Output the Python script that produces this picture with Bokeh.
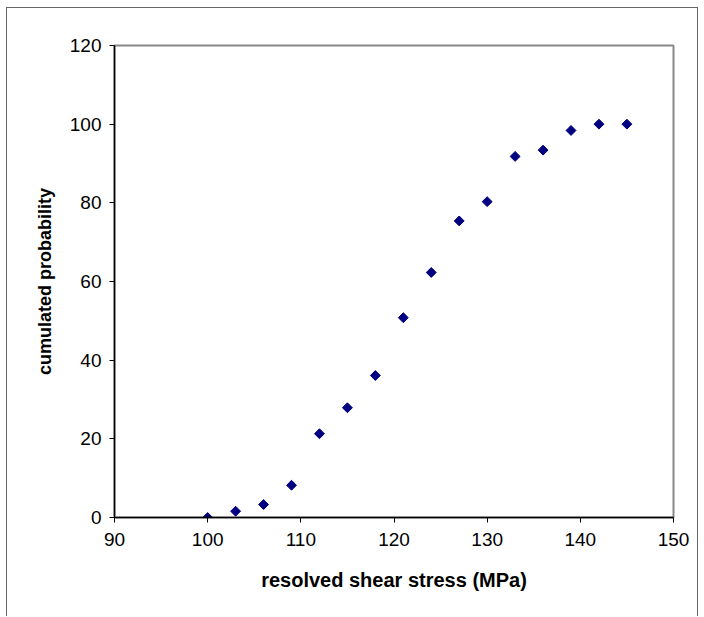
import numpy as np
from bokeh.plotting import figure
from bokeh.models import Range1d, FixedTicker
from bokeh.embed import file_html
from bokeh.resources import INLINE

stress = [100, 103, 106, 109, 112, 115, 118, 121, 124, 127, 130, 133, 136, 139, 142, 145]
probability = [0.0, 1.6, 3.3, 8.2, 21.3, 27.9, 36.1, 50.8, 62.3, 75.4, 80.3, 91.8, 93.4, 98.4, 100.0, 100.0]
x_ticks = [90, 100, 110, 120, 130, 140, 150]
y_ticks = [0, 20, 40, 60, 80, 100, 120]

p = figure(width=692, height=609, output_backend="svg", toolbar_location=None,
           x_range=Range1d(90, 150), y_range=Range1d(0, 120),
           min_border_left=107, min_border_right=26, min_border_top=37, min_border_bottom=100,
           styles={"border-left": "1px solid #666", "border-top": "1px solid #666",
                   "border-right": "1px solid #666", "margin-left": "6px", "margin-top": "7px"})

p.scatter(stress, probability, marker="square", size=7, angle=np.pi / 4,
          fill_color="#000080", line_color="#000080")

p.xgrid.visible = False
p.ygrid.visible = False
p.outline_line_color = "#888888"
p.outline_line_width = 2

for ax in (p.xaxis[0], p.yaxis[0]):
    ax.axis_line_color = "black"
    ax.axis_line_width = 1.5
    ax.major_tick_line_color = "black"
    ax.major_tick_in = 0
    ax.major_tick_out = 5
    ax.minor_tick_line_color = None
    ax.major_label_text_font = "Liberation Sans"
    ax.major_label_text_font_size = "19px"
    ax.major_label_text_color = "black"
    ax.axis_label_text_font = "Liberation Sans"
    ax.axis_label_text_font_style = "bold"
    ax.axis_label_text_color = "black"

p.xaxis.axis_label_text_font_size = "20px"
p.yaxis.axis_label_text_font_size = "18px"
p.xaxis.ticker = FixedTicker(ticks=x_ticks)
p.yaxis.ticker = FixedTicker(ticks=y_ticks)
p.xaxis.axis_label = "resolved shear stress (MPa)"
p.yaxis.axis_label = "cumulated probability"
p.xaxis.major_label_standoff = 10
p.yaxis.major_label_standoff = 8
p.xaxis.axis_label_standoff = 20
p.yaxis.axis_label_standoff = 12

open("out.html", "w").write(file_html(p, INLINE))
